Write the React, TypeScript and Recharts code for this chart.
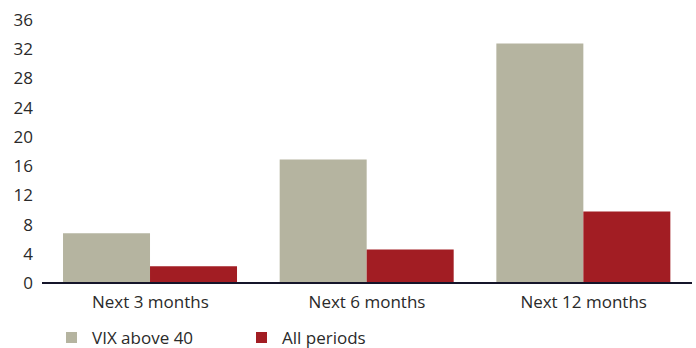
import { BarChart, Bar, XAxis, YAxis, Legend } from "recharts";

const categories = ["Next 3 months", "Next 6 months", "Next 12 months"];
const vixAbove40 = [6.8, 16.9, 32.8];
const allPeriods = [2.3, 4.6, 9.8];
const yTicks = [0, 4, 8, 12, 16, 20, 24, 28, 32, 36];

const SERIES = [
  { key: "vix", name: "VIX above 40", color: "#b5b4a0" },
  { key: "all", name: "All periods", color: "#a21d23" },
];

const FONT = "'Open Sans', sans-serif";
const TEXT = "#2a2a2a";

const data = categories.map((c, i) => ({
  name: c,
  vix: vixAbove40[i],
  all: allPeriods[i],
}));

const LegendContent = () => (
  <div style={{ height: 35, position: "relative", fontFamily: FONT, fontSize: 17, color: TEXT }}>
    {SERIES.map((s, i) => (
      <div
        key={s.key}
        style={{
          position: "absolute",
          left: 66 + i * 190,
          top: 13,
          display: "flex",
          alignItems: "center",
        }}
      >
        <span style={{ width: 11, height: 11, background: s.color, display: "inline-block", marginRight: 15 }} />
        <span>{s.name}</span>
      </div>
    ))}
  </div>
);

export default function App() {
  return (
    <div style={{ position: "absolute", left: 0, top: 0, background: "#fff" }}>
      <BarChart
        width={696}
        height={348}
        data={data}
        margin={{ top: 20, right: 4, left: 0, bottom: 0 }}
        barCategoryGap="9.7%"
        barGap={0}
      >
        <XAxis
          dataKey="name"
          height={30}
          tickLine={false}
          tickMargin={7}
          axisLine={{ stroke: "#15152a", strokeWidth: 2 }}
          tick={{ fill: TEXT, fontSize: 17, fontFamily: FONT }}
        />
        <YAxis
          width={42}
          domain={[0, 36]}
          ticks={yTicks}
          interval={0}
          axisLine={false}
          tickLine={false}
          tickMargin={3}
          tick={{ fill: TEXT, fontSize: 17, fontFamily: FONT }}
        />
        <Legend verticalAlign="bottom" align="left" content={LegendContent} wrapperStyle={{ left: 0, width: 696 }} />
        {SERIES.map((s) => (
          <Bar key={s.key} dataKey={s.key} name={s.name} fill={s.color} isAnimationActive={false} />
        ))}
      </BarChart>
    </div>
  );
}
